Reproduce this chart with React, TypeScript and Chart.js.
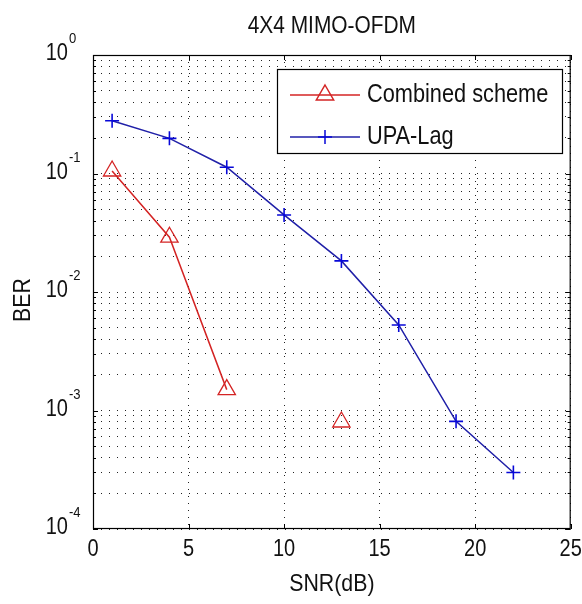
import React, { useEffect, useRef } from 'react';
import { Chart, registerables } from 'chart.js';

Chart.register(...registerables);

// ---- data ----
const snr = [1, 4, 7, 10, 13, 16, 19, 22];
const combinedScheme = [0.105, 0.029, 0.0015, null, 0.0008];
const upaLag = [0.279, 0.198, 0.113, 0.0447, 0.0183, 0.00527, 0.00081, 0.0003];
const xTicks = [0, 5, 10, 15, 20, 25];
const yDecades = [-4, -3, -2, -1, 0];
const yMantissas = [1, 2, 3, 4, 5, 6, 7, 8, 9];
const seriesNames = ['Combined scheme', 'UPA-Lag'];
const chartTitle = '4X4 MIMO-OFDM';
const xTitle = 'SNR(dB)';
const yTitle = 'BER';

const RED = '#d42424';
const BLUE_LINE = '#2020a8';
const BLUE = '#0808d8';
const FONT = "'Liberation Sans', Arial, sans-serif";
const SX = 0.87;

const yGridValues: number[] = [];
yDecades.forEach((d, i) => {
  if (i === yDecades.length - 1) {
    yGridValues.push(Math.pow(10, d));
  } else {
    yMantissas.forEach((m) => yGridValues.push(m * Math.pow(10, d)));
  }
});

function txt(
  ctx: CanvasRenderingContext2D,
  s: string,
  x: number,
  y: number,
  size: number,
  align: CanvasTextAlign,
  rotate = false
) {
  ctx.save();
  ctx.translate(x, y);
  if (rotate) ctx.rotate(-Math.PI / 2);
  ctx.scale(SX, 1);
  ctx.font = `${size}px ${FONT}`;
  ctx.textAlign = align;
  ctx.textBaseline = 'middle';
  ctx.fillStyle = '#111';
  ctx.fillText(s, 0, 0);
  ctx.restore();
}

const decorPlugin = {
  id: 'decor',
  afterDraw(chart: any) {
    const ctx: CanvasRenderingContext2D = chart.ctx;
    const { left, right, top, bottom } = chart.chartArea;
    const xs = chart.scales.x;
    const ys = chart.scales.y;
    ctx.save();

    // box
    ctx.strokeStyle = '#000';
    ctx.lineWidth = 1.2;
    ctx.strokeRect(left + 0.5, top + 0.5, right - left - 1, bottom - top - 1);

    // inward ticks
    ctx.lineWidth = 1;
    ctx.beginPath();
    xTicks.forEach((v) => {
      const px = Math.round(xs.getPixelForValue(v)) + 0.5;
      ctx.moveTo(px, bottom);
      ctx.lineTo(px, bottom - 5);
      ctx.moveTo(px, top);
      ctx.lineTo(px, top + 5);
    });
    yGridValues.forEach((v) => {
      const py = Math.round(ys.getPixelForValue(v)) + 0.5;
      const major = yDecades.some((d) => Math.abs(Math.pow(10, d) - v) < 1e-12);
      const len = major ? 5 : 3;
      ctx.moveTo(left, py);
      ctx.lineTo(left + len, py);
      ctx.moveTo(right, py);
      ctx.lineTo(right - len, py);
    });
    ctx.stroke();

    // x tick labels
    xTicks.forEach((v) => {
      txt(ctx, String(v), xs.getPixelForValue(v), 550, 23, 'center');
    });

    // y tick labels with superscript
    yDecades.forEach((d) => {
      const py = ys.getPixelForValue(Math.pow(10, d));
      txt(ctx, '10', 68, py - 1, 23, 'right');
      txt(ctx, String(d), 69, py - 16, 15, 'left');
    });

    // titles
    txt(ctx, chartTitle, (left + right) / 2, 26, 24, 'center');
    txt(ctx, xTitle, (left + right) / 2, 584, 24.5, 'center');
    txt(ctx, yTitle, 23, 300, 24.5, 'center', true);

    // legend
    const lx = 277, ly = 69, lw = 285, lh = 84;
    ctx.fillStyle = '#fff';
    ctx.fillRect(lx, ly, lw, lh);
    ctx.strokeStyle = '#000';
    ctx.lineWidth = 1.2;
    ctx.strokeRect(lx + 0.5, ly + 0.5, lw, lh);
    const rows = [95, 137];
    const lineColors = [RED, BLUE_LINE];
    const markColors = [RED, BLUE];
    rows.forEach((ry, i) => {
      ctx.strokeStyle = lineColors[i];
      ctx.lineWidth = 1.5;
      ctx.beginPath();
      ctx.moveTo(290, ry);
      ctx.lineTo(360, ry);
      ctx.stroke();
      const cx = 325;
      ctx.strokeStyle = markColors[i];
      ctx.beginPath();
      if (i === 0) {
        const r = 10;
        ctx.moveTo(cx, ry - r);
        ctx.lineTo(cx + 0.866 * r, ry + 0.5 * r);
        ctx.lineTo(cx - 0.866 * r, ry + 0.5 * r);
        ctx.closePath();
      } else {
        const r = 7;
        ctx.moveTo(cx - r, ry);
        ctx.lineTo(cx + r, ry);
        ctx.moveTo(cx, ry - r);
        ctx.lineTo(cx, ry + r);
      }
      ctx.stroke();
      txt(ctx, seriesNames[i], 367, ry, 25, 'left');
    });

    ctx.restore();
  },
};

export default function App() {
  const canvasRef = useRef<HTMLCanvasElement | null>(null);

  useEffect(() => {
    if (!canvasRef.current) return;
    const chart = new Chart(canvasRef.current, {
      type: 'line',
      data: {
        datasets: [
          {
            label: seriesNames[0],
            data: combinedScheme.map((v, i) => ({ x: snr[i], y: v })) as any,
            borderColor: RED,
            backgroundColor: 'rgba(0,0,0,0)',
            borderWidth: 1.5,
            pointStyle: 'triangle',
            pointRadius: 10,
            pointBorderWidth: 1.3,
            pointBorderColor: RED,
            pointBackgroundColor: 'rgba(0,0,0,0)',
            spanGaps: false,
            tension: 0,
          },
          {
            label: seriesNames[1],
            data: upaLag.map((v, i) => ({ x: snr[i], y: v })),
            borderColor: BLUE_LINE,
            backgroundColor: 'rgba(0,0,0,0)',
            borderWidth: 1.5,
            pointStyle: 'cross',
            pointRadius: 7,
            pointBorderWidth: 1.6,
            pointBorderColor: BLUE,
            tension: 0,
          },
        ],
      },
      plugins: [decorPlugin],
      options: {
        animation: false,
        responsive: true,
        maintainAspectRatio: false,
        layout: { padding: { top: 55, right: 11, left: 0, bottom: 0 } },
        plugins: {
          legend: { display: false },
          title: { display: false },
          tooltip: { enabled: false },
        },
        scales: {
          x: {
            type: 'linear',
            min: 0,
            max: 25,
            afterBuildTicks: (s: any) => {
              s.ticks = xTicks.map((v) => ({ value: v }));
            },
            afterFit: (s: any) => {
              s.height = 75;
            },
            ticks: { display: false },
            grid: { color: '#222', lineWidth: 1, drawTicks: false },
            border: { display: false, dash: [1, 6] },
          },
          y: {
            type: 'logarithmic',
            min: 1e-4,
            max: 1,
            afterBuildTicks: (s: any) => {
              s.ticks = yGridValues.map((v) => ({ value: v }));
            },
            afterFit: (s: any) => {
              s.width = 93;
            },
            ticks: { display: false },
            grid: { color: '#222', lineWidth: 1, drawTicks: false },
            border: { display: false, dash: [1, 7] },
          },
        },
      },
    });
    return () => chart.destroy();
  }, []);

  return (
    <div style={{ position: 'absolute', left: 0, top: 0, width: 582, height: 604, background: '#fff' }}>
      <canvas ref={canvasRef} />
    </div>
  );
}
